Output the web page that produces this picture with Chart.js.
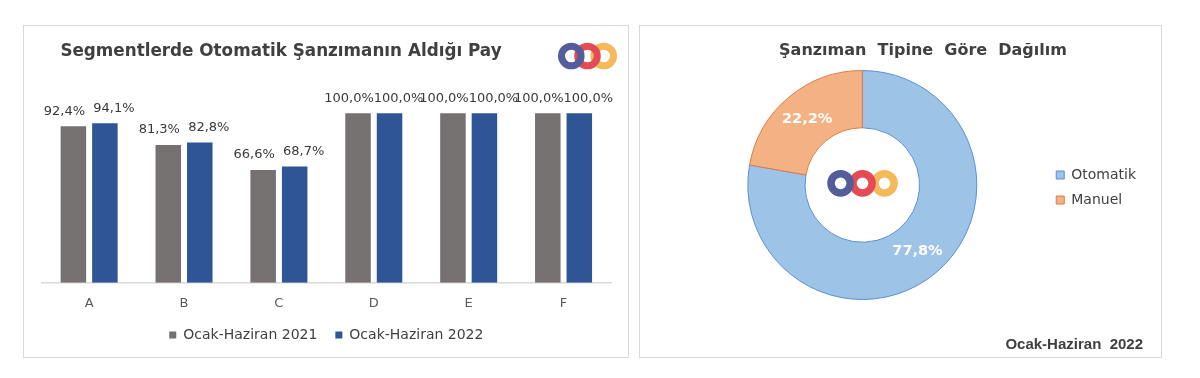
<!DOCTYPE html>
<html lang="tr">
<head>
<meta charset="utf-8">
<script src="https://cdn.jsdelivr.net/npm/chart.js@4.4.1/dist/chart.umd.min.js"></script>
<style>
  body { margin: 0; width: 1200px; height: 378px; background: #fff; position: relative; overflow: hidden; font-family: "DejaVu Sans", sans-serif; }
  .panel { position: absolute; border: 1px solid #d9d9d9; box-sizing: border-box; background: #fff; }
  canvas { position: absolute; }
  .txt { position: absolute; white-space: pre; color: #404040; }
  svg { position: absolute; }
</style>
</head>
<body>

<div class="panel" style="left:23px; top:25px; width:606px; height:333px"></div>
<div class="panel" style="left:639px; top:25px; width:523px; height:333px"></div>

<canvas id="bars" width="606" height="334" style="left:22px; top:24px"></canvas>
<canvas id="donut" width="523" height="334" style="left:639px; top:24px"></canvas>

<div class="txt" style="left:281px; top:50px; transform:translate(-50%,-50%); font:bold 16.8px 'DejaVu Sans'">Segmentlerde Otomatik Şanzımanın Aldığı Pay</div>
<div class="txt" style="left:923px; top:49px; transform:translate(-50%,-50%); font:bold 16px 'DejaVu Sans'">Şanzıman  Tipine  Göre  Dağılım</div>
<div class="txt" style="left:1143px; top:343px; transform:translate(-100%,-50%); font:bold 15px 'Liberation Sans'">Ocak-Haziran  2022</div>

<!-- logos -->
<svg style="left:556px; top:41px" width="64" height="31" viewBox="556 41 64 31">
  <circle cx="603.7" cy="56" r="9.8" fill="none" stroke="#f5b95c" stroke-width="7"/>
  <circle cx="587.5" cy="56" r="9.8" fill="none" stroke="#e54b53" stroke-width="7"/>
  <circle cx="571.3" cy="56" r="9.8" fill="none" stroke="#535d9c" stroke-width="7"/>
</svg>
<svg style="left:825px; top:168px" width="76" height="31" viewBox="825 168 76 31">
  <circle cx="884.5" cy="183.3" r="9.6" fill="none" stroke="#f5b95c" stroke-width="7.5"/>
  <circle cx="862.5" cy="183.3" r="9.6" fill="none" stroke="#e54b53" stroke-width="7.5"/>
  <circle cx="840.6" cy="183.3" r="9.6" fill="none" stroke="#535d9c" stroke-width="7.5"/>
</svg>

<script>
// segment payı (%)
var segments = ["A", "B", "C", "D", "E", "F"];
var pay2021 = [92.4, 81.3, 66.6, 100, 100, 100];
var pay2022 = [94.1, 82.8, 68.7, 100, 100, 100];
var seriesNames = ["Ocak-Haziran 2021", "Ocak-Haziran 2022"];

// şanzıman dağılımı (%)
var tipler = ["Otomatik", "Manuel"];
var dagilim = [77.8, 22.2];

function yuzde(v) {
    return v.toFixed(1).replace(".", ",") + "%";
}

// value labels above the bars
var barLabels = {
    id: "barLabels",
    afterDatasetsDraw: function (chart) {
        var ctx = chart.ctx;
        ctx.save();
        ctx.font = '13px "DejaVu Sans"';
        ctx.fillStyle = "#3a3a3a";
        ctx.textAlign = "center";
        ctx.textBaseline = "middle";
        chart.data.datasets.forEach(function (ds, i) {
            var shift = i === 0 ? -9 : 9;
            chart.getDatasetMeta(i).data.forEach(function (bar, j) {
                ctx.fillText(yuzde(ds.data[j]), bar.x + shift, bar.y - 15);
            });
        });
        ctx.restore();
    }
};

// white percentages on the doughnut
var arcLabels = {
    id: "arcLabels",
    afterDatasetsDraw: function (chart) {
        var ctx = chart.ctx;
        ctx.save();
        ctx.font = 'bold 14.5px "DejaVu Sans"';
        ctx.fillStyle = "#ffffff";
        ctx.textAlign = "center";
        ctx.textBaseline = "middle";
        var ds = chart.data.datasets[0];
        chart.getDatasetMeta(0).data.forEach(function (arc, j) {
            var p = arc.tooltipPosition();
            ctx.fillText(yuzde(ds.data[j]), p.x, p.y);
        });
        ctx.restore();
    }
};

new Chart(document.getElementById("bars"), {
    type: "bar",
    data: {
        labels: segments,
        datasets: [
            { label: seriesNames[0], data: pay2021, backgroundColor: "#767171" },
            { label: seriesNames[1], data: pay2022, backgroundColor: "#2f5597" }
        ]
    },
    options: {
        responsive: false,
        animation: false,
        categoryPercentage: 0.664,
        barPercentage: 0.81,
        layout: { padding: { left: 19.7, right: 17, top: 72.4, bottom: 6 } },
        scales: {
            y: { display: false, min: 0, max: 110 },
            x: {
                grid: { display: false, drawTicks: false },
                border: { display: true, color: "#d9d9d9", width: 1.5 },
                ticks: { color: "#595959", font: { family: "DejaVu Sans", size: 13 }, padding: 12.8 },
                afterFit: function (scale) { scale.height = 27.2; }
            }
        },
        plugins: {
            legend: {
                position: "bottom",
                labels: {
                    boxWidth: 7, boxHeight: 7, padding: 18,
                    color: "#404040",
                    font: { family: "DejaVu Sans", size: 14 }
                }
            },
            tooltip: { enabled: false }
        }
    },
    plugins: [barLabels]
});

new Chart(document.getElementById("donut"), {
    type: "doughnut",
    data: {
        labels: tipler,
        datasets: [{
            data: dagilim,
            backgroundColor: ["#9dc3e6", "#f4b183"],
            borderColor: ["#5b8fcf", "#e07b45"],
            borderWidth: 1
        }]
    },
    options: {
        responsive: false,
        animation: false,
        cutout: "50%",
        layout: { padding: { left: 40.4, right: 16, top: 46, bottom: 58 } },
        plugins: {
            legend: {
                position: "right",
                title: { display: true, text: "", padding: 0, font: { size: 4.2 } },
                labels: {
                    boxWidth: 8, boxHeight: 8, padding: 11,
                    color: "#404040",
                    font: { family: "DejaVu Sans", size: 14 }
                }
            },
            tooltip: { enabled: false }
        }
    },
    plugins: [arcLabels]
});
</script>
</body>
</html>
